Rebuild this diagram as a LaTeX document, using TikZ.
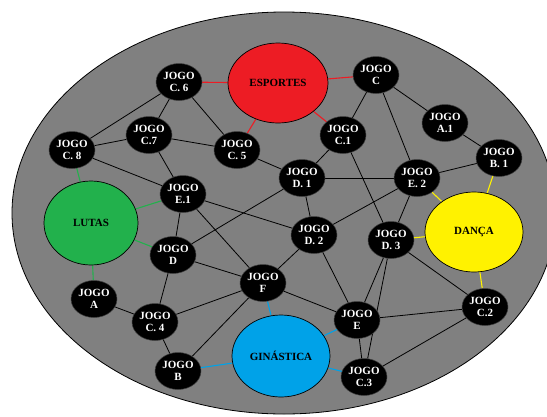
\documentclass[tikz,border=0pt]{standalone}
\usepackage{fontspec}
\setmainfont{Liberation Serif}
\usetikzlibrary{shapes.geometric}
\pgfdeclarelayer{back}
\pgfdeclarelayer{bg}
\pgfsetlayers{back,bg,main}
\definecolor{arena}{HTML}{808080}
\definecolor{cRed}{HTML}{ED1C24}
\definecolor{cGreen}{HTML}{22B14C}
\definecolor{cYellow}{HTML}{FFF200}
\definecolor{cBlue}{HTML}{00A2E8}
\tikzset{
  jogo/.style={ellipse, fill=black, draw=black!75, line width=0.5pt,
    minimum width=46pt, minimum height=37pt, inner sep=0pt, text=white,
    font=\fontsize{11}{12.5}\selectfont\bfseries, align=center},
  area/.style={ellipse, draw=black, line width=0.7pt, inner sep=0pt,
    font=\fontsize{11}{13}\selectfont\bfseries, text=black},
  link/.style={draw=black, line width=0.8pt},
  clink/.style={draw=#1, line width=1.1pt},
}
\begin{document}
\begin{tikzpicture}[x=1pt,y=-1pt]
\useasboundingbox (0,0) rectangle (547,416);
\begin{pgfonlayer}{back}
\begin{scope}
  \clip (0,0) rectangle (547,416);
  \draw[fill=arena, line width=0.8pt] (284,213) ellipse [x radius=272, y radius=201];
\end{scope}
\end{pgfonlayer}
% areas
\node[area, fill=cRed, minimum width=100pt, minimum height=80pt] (esp) at (278,83) {ESPORTES};
\node[area, fill=cGreen, minimum width=94pt, minimum height=84pt] (lut) at (91,223) {LUTAS};
\node[area, fill=cYellow, minimum width=98pt, minimum height=80pt] (dan) at (474,232) {DANÇA};
\node[area, fill=cBlue, minimum width=98pt, minimum height=82pt] (gin) at (281,356) {GINÁSTICA};
% games
\node[jogo] (c6) at (179,82) {JOGO\\C. 6};
\node[jogo] (c7) at (149,135) {JOGO\\C.7};
\node[jogo] (c8) at (72,150) {JOGO\\C. 8};
\node[jogo] (c5) at (237,150) {JOGO\\C. 5};
\node[jogo] (e1) at (183,194) {JOGO\\E.1};
\node[jogo] (c) at (376,75) {JOGO\\C};
\node[jogo] (c1) at (343,135) {JOGO\\C.1};
\node[jogo] (a1) at (445,123) {JOGO\\A.1};
\node[jogo] (b1) at (499,158) {JOGO\\B. 1};
\node[jogo] (d1) at (302,178) {JOGO\\D. 1};
\node[jogo] (e2) at (417,178) {JOGO\\E. 2};
\node[jogo] (d) at (173,255) {JOGO\\D};
\node[jogo] (d2) at (314,235) {JOGO\\D. 2};
\node[jogo] (d3) at (391,240) {JOGO\\D. 3};
\node[jogo] (a) at (94,299) {JOGO\\A};
\node[jogo] (c4) at (155,322) {JOGO\\C. 4};
\node[jogo] (f) at (263,283) {JOGO\\F};
\node[jogo] (b) at (178,371) {JOGO\\B};
\node[jogo] (e) at (357,320) {JOGO\\E};
\node[jogo] (c3) at (364,377) {JOGO\\C.3};
\node[jogo] (c2) at (485,307) {JOGO\\C.2};
\begin{pgfonlayer}{bg}
  \foreach \p/\q in {c6/c8, c6/c7, c6/c5, c7/c8, c7/c5, c7/e1, c8/e1, c5/d1,
    c/c1, c/a1, c/e2, a1/b1, b1/e2, c1/d1, c1/d3, d1/e2, e2/d2, e2/d3,
    d1/d2, d1/d, e1/d2, e1/f, e1/d, d/f, d/c4, a/c4, c4/f, c4/b, b/f,
    f/d2, f/e, d2/e, d3/e, d3/c3, d3/c2, e/c2, e/c3, c3/c2}
    \draw[link] (\p) -- (\q);
  \foreach \q in {c6, c5, c, c1} \draw[clink=cRed] (esp) -- (\q);
  \foreach \q in {c8, e1, d, a} \draw[clink=cGreen] (lut) -- (\q);
  \foreach \q in {b1, e2, d3, c2} \draw[clink=cYellow] (dan) -- (\q);
  \foreach \q in {f, b, e, c3} \draw[clink=cBlue] (gin) -- (\q);
\end{pgfonlayer}
\end{tikzpicture}
\end{document}
